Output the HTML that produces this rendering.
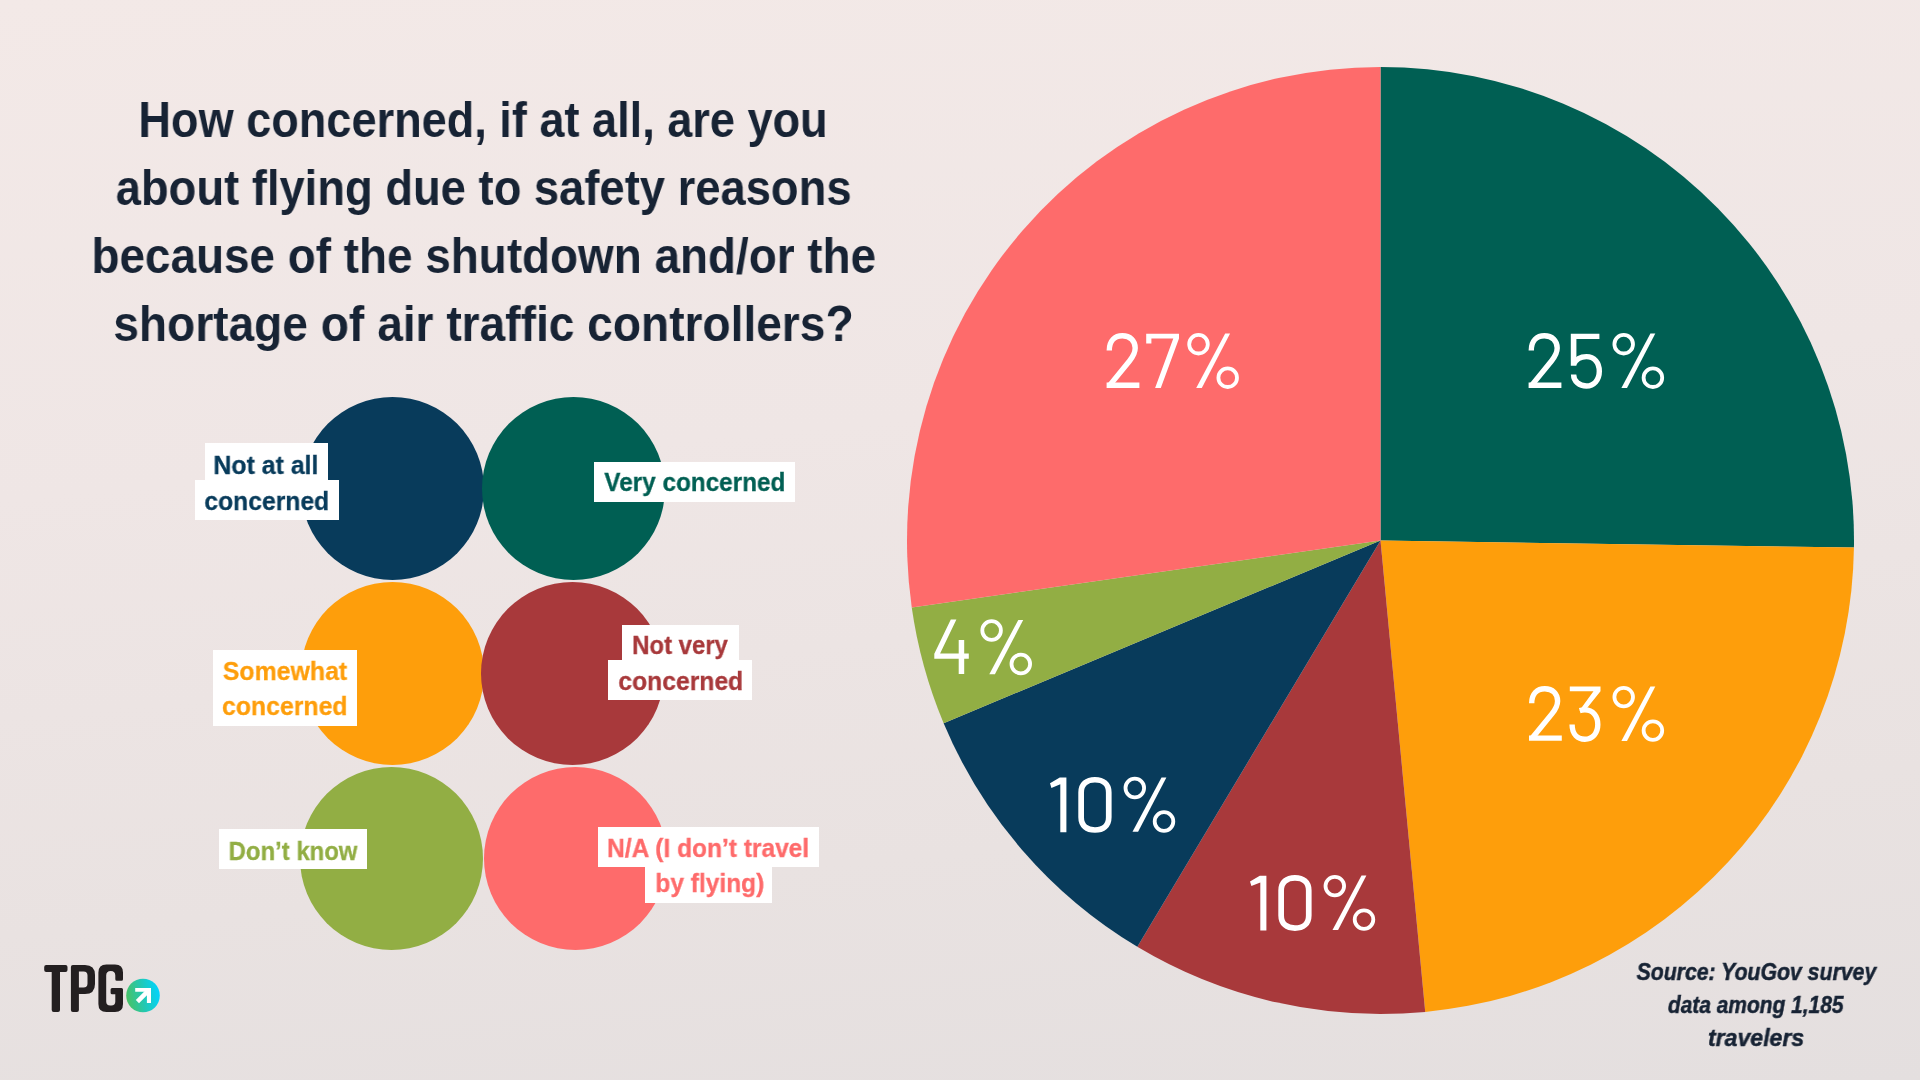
<!DOCTYPE html>
<html><head><meta charset="utf-8">
<style>
html,body{margin:0;padding:0;}
body{width:1920px;height:1080px;overflow:hidden;position:relative;
background:linear-gradient(175deg,#f3e9e7 0%,#efe6e5 40%,#e9e2e1 75%,#e4dfdf 100%);
font-family:"Liberation Sans",sans-serif;}
.t{position:absolute;left:0;width:967px;text-align:center;font-weight:bold;font-size:50px;line-height:50px;color:#172334;white-space:nowrap;}
.t span{display:inline-block;will-change:transform;transform:scaleX(0.905);transform-origin:50% 50%;}
.c{position:absolute;width:183px;height:183px;border-radius:50%;}
.b{position:absolute;background:#fff;}
.l{position:absolute;text-align:center;-webkit-text-stroke:0.3px currentColor;font-weight:bold;font-size:26px;line-height:26px;white-space:nowrap;}
.l span{display:inline-block;will-change:transform;transform:scaleX(0.92);transform-origin:50% 50%;}
.s{position:absolute;left:1556px;-webkit-text-stroke:0.5px #172334;width:400px;text-align:center;font-weight:bold;font-style:italic;font-size:24px;line-height:24px;color:#172334;white-space:nowrap;}
.s span{display:inline-block;will-change:transform;transform:scaleX(0.89);transform-origin:50% 50%;}
svg{position:absolute;left:0;top:0;}
</style></head><body>

<div class="t" style="top:95px"><span style="transform:scaleX(0.902)">How concerned, if at all, are you</span></div>
<div class="t" style="top:163px"><span style="transform:scaleX(0.907)">about flying due to safety reasons</span></div>
<div class="t" style="top:231px"><span style="transform:scaleX(0.917)">because of the shutdown and/or the</span></div>
<div class="t" style="top:299px"><span style="transform:scaleX(0.922)">shortage of air traffic controllers?</span></div>

<div class="c" style="left:301px;top:397px;background:#083b5b"></div>
<div class="c" style="left:481.5px;top:397px;background:#005f53"></div>
<div class="c" style="left:301px;top:582px;background:#fe9e0b"></div>
<div class="c" style="left:481px;top:582px;background:#a8393b"></div>
<div class="c" style="left:300px;top:767px;background:#92ae44"></div>
<div class="c" style="left:483.5px;top:766.5px;background:#fe6b6b"></div>

<!-- label boxes -->
<div class="b" style="left:205px;top:443px;width:123px;height:37px"></div>
<div class="b" style="left:195px;top:480px;width:144px;height:40px"></div>
<div class="b" style="left:594px;top:462px;width:201px;height:40px"></div>
<div class="b" style="left:213px;top:650px;width:144px;height:76px"></div>
<div class="b" style="left:622px;top:625px;width:117px;height:36px"></div>
<div class="b" style="left:608px;top:660px;width:144px;height:40px"></div>
<div class="b" style="left:219px;top:829px;width:148px;height:40px"></div>
<div class="b" style="left:598px;top:827px;width:221px;height:40px"></div>
<div class="b" style="left:645px;top:867px;width:127px;height:36px"></div>

<div class="l" style="left:116.40px;width:300px;top:452px;color:#083b5b"><span style="transform:scaleX(0.957)">Not at all</span></div>
<div class="l" style="left:116.30px;width:300px;top:488px;color:#083b5b"><span style="transform:scaleX(0.95)">concerned</span></div>
<div class="l" style="left:544.75px;width:300px;top:469px;color:#005f53"><span style="transform:scaleX(0.935)">Very concerned</span></div>
<div class="l" style="left:134.85px;width:300px;top:658px;color:#fe9e0b"><span style="transform:scaleX(0.957)">Somewhat</span></div>
<div class="l" style="left:134.85px;width:300px;top:693px;color:#fe9e0b"><span style="transform:scaleX(0.955)">concerned</span></div>
<div class="l" style="left:530.40px;width:300px;top:632px;color:#a8393b"><span style="transform:scaleX(0.92)">Not very</span></div>
<div class="l" style="left:530.45px;width:300px;top:668px;color:#a8393b"><span style="transform:scaleX(0.95)">concerned</span></div>
<div class="l" style="left:142.90px;width:300px;top:838px;color:#92ae44"><span style="transform:scaleX(0.92)">Don’t know</span></div>
<div class="l" style="left:558.60px;width:300px;top:835px;color:#fe6b6b"><span style="transform:scaleX(0.943)">N/A (I don’t travel</span></div>
<div class="l" style="left:559.75px;width:300px;top:870px;color:#fe6b6b"><span style="transform:scaleX(0.942)">by flying)</span></div>

<svg width="1920" height="1080" viewBox="0 0 1920 1080">
<path fill="#005f53" d="M1380.5,540.5 L1380.50,67.00 A473.5,473.5 0 0 1 1853.95,547.61 Z"/>
<path fill="#fe9e0b" d="M1380.5,540.5 L1853.95,547.61 A473.5,473.5 0 0 1 1425.22,1011.88 Z"/>
<path fill="#a8393b" d="M1380.5,540.5 L1425.22,1011.88 A473.5,473.5 0 0 1 1137.34,946.79 Z"/>
<path fill="#083b5b" d="M1380.5,540.5 L1137.34,946.79 A473.5,473.5 0 0 1 943.65,723.15 Z"/>
<path fill="#92ae44" d="M1380.5,540.5 L943.65,723.15 A473.5,473.5 0 0 1 911.75,607.38 Z"/>
<path fill="#fe6b6b" d="M1380.5,540.5 L911.75,607.38 A473.5,473.5 0 0 1 1380.50,67.00 Z"/>
<!-- DIGITS -->
<g transform="translate(1106.60,333.10)"><path d="M2.7,17.3 C2.7,7.6 8.4,2.7 15.8,2.7 C23.6,2.7 28.6,7.7 28.6,15 C28.6,19.8 26.4,23.6 22.9,27.9 L3.2,52" fill="none" stroke="#fff" stroke-width="5.4"/><path d="M0,49.4 H32.8 V54.8 H0 Z" fill="#fff"/></g>
<g transform="translate(1146.20,333.10)"><path d="M0,0.6 H32.8 V5.5 L14.6,54.8 H8.9 L27.1,5.5 H5.2 V10.4 H0 Z" fill="#fff"/></g>
<g transform="translate(1187.30,333.10)"><circle cx="11.2" cy="11.1" r="9.3" fill="none" stroke="#fff" stroke-width="3.8"/><circle cx="40.4" cy="44.6" r="9.3" fill="none" stroke="#fff" stroke-width="3.8"/><path d="M37.9,0.5 H42.8 L14.5,54.9 H8.9 Z" fill="#fff"/></g>
<g transform="translate(1528.60,333.10)"><path d="M2.7,17.3 C2.7,7.6 8.4,2.7 15.8,2.7 C23.6,2.7 28.6,7.7 28.6,15 C28.6,19.8 26.4,23.6 22.9,27.9 L3.2,52" fill="none" stroke="#fff" stroke-width="5.4"/><path d="M0,49.4 H32.8 V54.8 H0 Z" fill="#fff"/></g>
<g transform="translate(1570.80,333.10)"><path d="M0,0.6 H28.6 V5.8 H5.6 V32.6 H0 Z" fill="#fff"/><path d="M2.8,31 C5.5,25.6 10,23.5 15.6,23.5 C23.5,23.5 28.5,29.6 28.5,38.2 C28.5,47 23.1,52.9 15.6,52.9 C8.8,52.9 2.8,48.5 2.8,41.3" fill="none" stroke="#fff" stroke-width="5.4"/></g>
<g transform="translate(1612.50,333.10)"><circle cx="11.2" cy="11.1" r="9.3" fill="none" stroke="#fff" stroke-width="3.8"/><circle cx="40.4" cy="44.6" r="9.3" fill="none" stroke="#fff" stroke-width="3.8"/><path d="M37.9,0.5 H42.8 L14.5,54.9 H8.9 Z" fill="#fff"/></g>
<g transform="translate(1529.00,686.00)"><path d="M2.7,17.3 C2.7,7.6 8.4,2.7 15.8,2.7 C23.6,2.7 28.6,7.7 28.6,15 C28.6,19.8 26.4,23.6 22.9,27.9 L3.2,52" fill="none" stroke="#fff" stroke-width="5.4"/><path d="M0,49.4 H32.8 V54.8 H0 Z" fill="#fff"/></g>
<g transform="translate(1569.30,686.00)"><path d="M0.5,0.5 H31.2 V5.2 L17.4,22.6 L10.2,24.6 L24.2,5.2 H0.5 Z" fill="#fff"/><path d="M10.4,24.6 C12,24.1 13.8,23.9 15.6,23.9 C23.6,23.9 28.5,29.9 28.5,38.6 C28.5,47.4 23.1,53.2 15.6,53.2 C8.6,53.2 2.8,48.5 2.8,38.6" fill="none" stroke="#fff" stroke-width="5.4"/></g>
<g transform="translate(1612.50,686.00)"><circle cx="11.2" cy="11.1" r="9.3" fill="none" stroke="#fff" stroke-width="3.8"/><circle cx="40.4" cy="44.6" r="9.3" fill="none" stroke="#fff" stroke-width="3.8"/><path d="M37.9,0.5 H42.8 L14.5,54.9 H8.9 Z" fill="#fff"/></g>
<g transform="translate(1050.00,776.90)"><path d="M9.8,0.7 H16.4 V55.4 H10.3 V7.4 L1.4,11 L0,6.4 Z" fill="#fff"/></g>
<g transform="translate(1078.30,776.90)"><path d="M2.85,15.5 C2.85,7 8.5,2.85 16.65,2.85 C24.8,2.85 30.45,7 30.45,15.5 V40.4 C30.45,48.9 24.8,53.1 16.65,53.1 C8.5,53.1 2.85,48.9 2.85,40.4 Z" fill="none" stroke="#fff" stroke-width="5.7"/></g>
<g transform="translate(1123.60,776.90)"><circle cx="11.2" cy="11.1" r="9.3" fill="none" stroke="#fff" stroke-width="3.8"/><circle cx="40.4" cy="44.6" r="9.3" fill="none" stroke="#fff" stroke-width="3.8"/><path d="M37.9,0.5 H42.8 L14.5,54.9 H8.9 Z" fill="#fff"/></g>
<g transform="translate(1250.00,875.00)"><path d="M9.8,0.7 H16.4 V55.4 H10.3 V7.4 L1.4,11 L0,6.4 Z" fill="#fff"/></g>
<g transform="translate(1278.30,875.00)"><path d="M2.85,15.5 C2.85,7 8.5,2.85 16.65,2.85 C24.8,2.85 30.45,7 30.45,15.5 V40.4 C30.45,48.9 24.8,53.1 16.65,53.1 C8.5,53.1 2.85,48.9 2.85,40.4 Z" fill="none" stroke="#fff" stroke-width="5.7"/></g>
<g transform="translate(1323.60,875.00)"><circle cx="11.2" cy="11.1" r="9.3" fill="none" stroke="#fff" stroke-width="3.8"/><circle cx="40.4" cy="44.6" r="9.3" fill="none" stroke="#fff" stroke-width="3.8"/><path d="M37.9,0.5 H42.8 L14.5,54.9 H8.9 Z" fill="#fff"/></g>
<g transform="translate(934.30,619.40)"><path d="M16.5,0.2 H22.1 L5.8,34.2 H34.5 V39.3 H0 V34.4 Z" fill="#fff"/><path d="M24.4,20.6 H29.9 V54.6 H24.4 Z" fill="#fff"/></g>
<g transform="translate(980.40,619.40)"><circle cx="11.2" cy="11.1" r="9.3" fill="none" stroke="#fff" stroke-width="3.8"/><circle cx="40.4" cy="44.6" r="9.3" fill="none" stroke="#fff" stroke-width="3.8"/><path d="M37.9,0.5 H42.8 L14.5,54.9 H8.9 Z" fill="#fff"/></g>
<!-- /DIGITS -->
</svg>

<div class="s" style="top:960px"><span style="transform:scaleX(0.885)">Source: YouGov survey</span></div>
<div class="s" style="top:993px"><span style="transform:scaleX(0.872)">data among 1,185</span></div>
<div class="s" style="top:1026px"><span style="transform:scaleX(0.96)">travelers</span></div>

<!-- LOGO -->
<svg width="1920" height="1080" viewBox="0 0 1920 1080" style="position:absolute;left:0;top:0">
<defs><linearGradient id="lg" x1="0" y1="0.6" x2="1" y2="0.4"><stop offset="0" stop-color="#4ac264"/><stop offset="0.5" stop-color="#22c8b4"/><stop offset="1" stop-color="#00d4ff"/></linearGradient></defs>
<path fill="#231f20" d="M46.2,964.9 H65.5 Q67.5,964.9 67.5,966.9 V969.9 Q67.5,971.9 65.5,971.9 H60 V1009.9 Q60,1011.9 58,1011.9 H53.7 Q51.7,1011.9 51.7,1009.9 V971.9 H46.2 Q44.2,971.9 44.2,969.9 V966.9 Q44.2,964.9 46.2,964.9 Z"/>
<path fill="#231f20" fill-rule="evenodd" d="M70.9,966.9 Q70.9,964.9 72.9,964.9 H85 Q95,964.9 95,974.9 V984 Q95,994 85,994 H78.9 V1009.9 Q78.9,1011.9 76.9,1011.9 H72.9 Q70.9,1011.9 70.9,1009.9 Z M78.9,971.4 H83.5 Q87.5,971.4 87.5,975.4 V983.5 Q87.5,987.5 83.5,987.5 H78.9 Z"/>
<path fill="#231f20" d="M106.4,964.6 H115 Q123,964.6 123,972.6 V979.2 Q123,980.7 121.5,980.7 H116.8 Q115.3,980.7 115.3,979.2 V975.5 Q115.3,970.9 110.75,970.9 Q106.2,970.9 106.2,975.5 V1001.6 Q106.2,1005.6 110.2,1005.6 H111.3 Q115.3,1005.6 115.3,1001.6 V994.2 H112.1 Q110.6,994.2 110.6,992.7 V989.5 Q110.6,988 112.1,988 H121.5 Q123,988 123,989.5 V1004 Q123,1012 115,1012 H106.4 Q98.4,1012 98.4,1004 V972.6 Q98.4,964.6 106.4,964.6 Z"/>
<circle cx="143" cy="995.5" r="16.8" fill="url(#lg)"/>
<path fill="#fff" d="M135.2,988 H151 V1003 H146.9 V991.8 H135.2 Z"/>
<path stroke="#fff" stroke-width="4.5" d="M137.4,1001.6 L148.2,990.8"/>
</svg>
</body></html>
